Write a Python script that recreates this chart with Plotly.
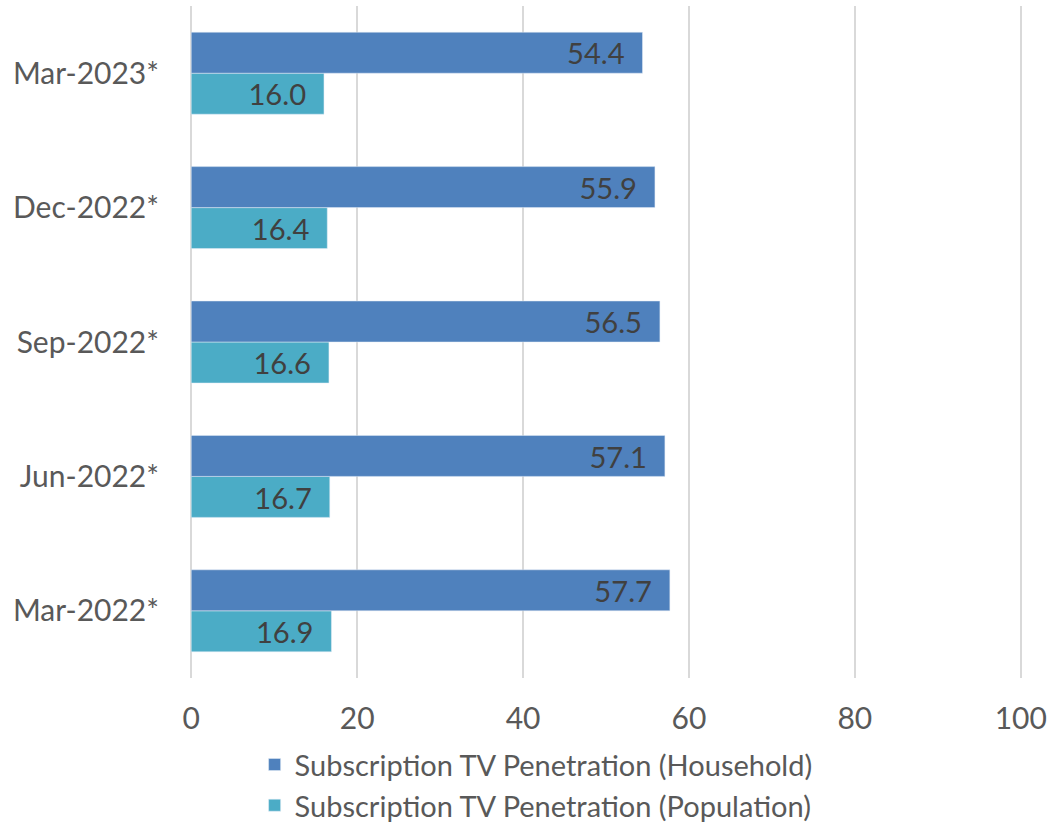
import plotly.graph_objects as go

# Quarterly periods (bottom to top on the chart)
periods = ["Mar-2022*", "Jun-2022*", "Sep-2022*", "Dec-2022*", "Mar-2023*"]
household = [57.7, 57.1, 56.5, 55.9, 54.4]
population = [16.9, 16.7, 16.6, 16.4, 16.0]
x_ticks = [0, 20, 40, 60, 80, 100]

FONT = "Lato"
TEXT_COLOR = "#595959"
SIZE = 30

fig = go.Figure()
fig.add_trace(go.Bar(
    y=periods, x=population, orientation="h",
    name="Subscription TV Penetration (Population)",
    marker=dict(color="#4BACC6"),
    texttemplate="%{x:.1f}\u00a0\u00a0", textposition="inside",
    insidetextanchor="end",
    textfont=dict(family=FONT, size=SIZE, color="#404040"),
    legendrank=2,
))
fig.add_trace(go.Bar(
    y=periods, x=household, orientation="h",
    name="Subscription TV Penetration (Household)",
    marker=dict(color="#4F81BD"),
    texttemplate="%{x:.1f}\u00a0\u00a0", textposition="inside",
    insidetextanchor="end",
    textfont=dict(family=FONT, size=SIZE, color="#404040"),
    legendrank=1,
))

fig.update_layout(
    width=1048, height=827,
    margin=dict(l=190, r=26, t=6, b=149, autoexpand=False),
    paper_bgcolor="white", plot_bgcolor="white",
    barmode="group", bargap=0.39, bargroupgap=0,
    font=dict(family=FONT, size=SIZE, color=TEXT_COLOR),
    uniformtext=dict(minsize=10, mode="show"),
    legend=dict(
        orientation="v", x=0.416, xanchor="center", y=-0.091, yanchor="top",
        font=dict(family=FONT, size=29, color=TEXT_COLOR),
        itemwidth=30, tracegroupgap=0,
    ),
    xaxis=dict(
        range=[-0.15, 100.15], tickvals=x_ticks, showgrid=True,
        gridcolor="#d9d9d9", gridwidth=2, zeroline=False,
        showline=False, ticklabelstandoff=20, automargin=False,
        tickfont=dict(family=FONT, size=SIZE, color=TEXT_COLOR),
    ),
    yaxis=dict(
        showgrid=False, showline=False, ticks="",
        ticklabelstandoff=30, automargin=False,
        tickfont=dict(family=FONT, size=SIZE, color=TEXT_COLOR),
    ),
)

fig.write_html("out.html")
